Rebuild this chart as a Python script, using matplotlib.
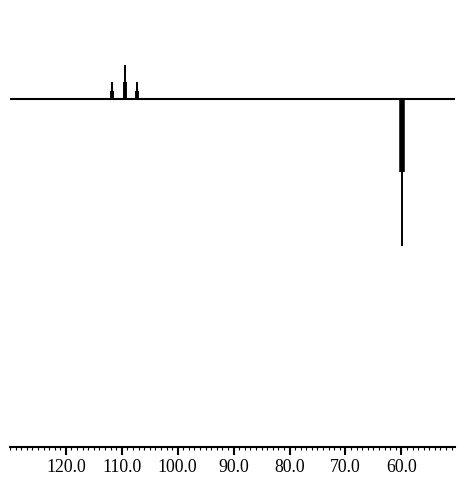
import matplotlib.pyplot as plt
from matplotlib.ticker import MultipleLocator, FormatStrFormatter

plt.rcParams["font.family"] = "Liberation Serif"
plt.rcParams["font.size"] = 12.8

# Triplet (ppm, intensity): thick lower part + thin tip
trip_ppm = [111.7, 109.5, 107.3]
trip_tip = [17, 34, 17]
trip_body = [8, 17, 8]

# Negative peak
neg_ppm = [59.8]
neg_tip = [-147]
neg_body = [-73]

ppm_left = 130.0
ppm_right = 50.4

fig = plt.figure(figsize=(4.57, 4.78), dpi=100)
ax = fig.add_axes([10 / 457, 31 / 478, 445 / 457, 1 - 31 / 478])

ax.axhline(0, color="black", lw=1.5)
ax.vlines(trip_ppm, 0, trip_tip, color="black", lw=1.4)
ax.vlines(trip_ppm, 0, trip_body, color="black", lw=2.8)
ax.vlines(neg_ppm, 0, neg_tip, color="black", lw=1.4)
ax.vlines(neg_ppm, 0, neg_body, color="black", lw=4.0)

ax.set_xlim(ppm_left, ppm_right)
ax.set_ylim(-348, 99)

for s in ["top", "left", "right"]:
    ax.spines[s].set_visible(False)
ax.spines["bottom"].set_linewidth(1.5)
ax.set_yticks([])

ax.set_xticks([120, 110, 100, 90, 80, 70, 60])
ax.xaxis.set_minor_locator(MultipleLocator(1))
ax.xaxis.set_major_formatter(FormatStrFormatter("%.1f"))
ax.tick_params(axis="x", which="major", length=6, width=1.5, pad=3)
ax.tick_params(axis="x", which="minor", length=2.2, width=0.8)

fig.savefig("out.png", dpi=100)
